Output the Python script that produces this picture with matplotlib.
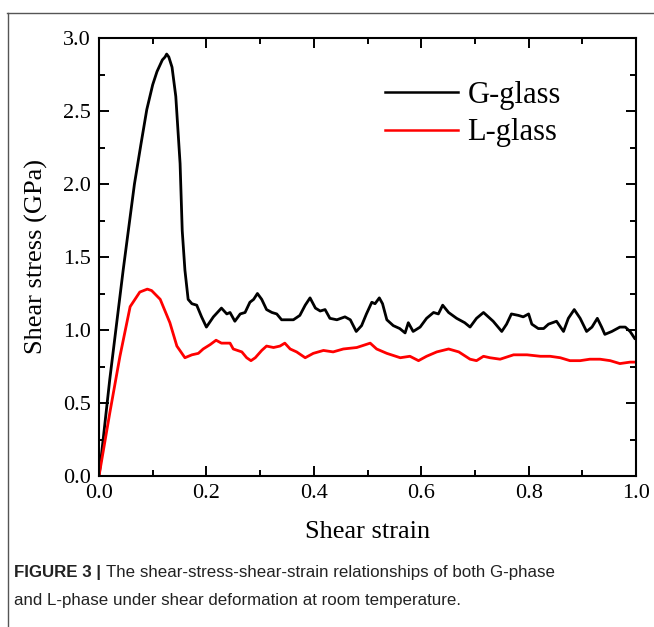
import matplotlib
matplotlib.use("Agg")
import matplotlib.pyplot as plt
from matplotlib.lines import Line2D
from matplotlib.ticker import MultipleLocator, FormatStrFormatter

# ---- data ----
g_strain = [0.0, 0.002, 0.020, 0.045, 0.066, 0.078, 0.089, 0.100, 0.108, 0.118, 0.123,
            0.126, 0.130, 0.136, 0.143, 0.151, 0.155, 0.160, 0.166, 0.173, 0.182, 0.191, 0.200,
            0.213, 0.228, 0.238, 0.244, 0.253, 0.263, 0.272, 0.281, 0.288, 0.295, 0.303, 0.312,
            0.322, 0.331, 0.340, 0.350, 0.362, 0.374, 0.384, 0.393, 0.403, 0.412, 0.421, 0.430,
            0.443, 0.458, 0.468, 0.479, 0.489, 0.498, 0.508, 0.514, 0.522, 0.528, 0.536, 0.548,
            0.560, 0.570, 0.576, 0.585, 0.598, 0.610, 0.623, 0.632, 0.640, 0.651, 0.666, 0.681,
            0.691, 0.703, 0.716, 0.728, 0.734, 0.750, 0.759, 0.768, 0.781, 0.790, 0.800, 0.806,
            0.818, 0.828, 0.837, 0.852, 0.865, 0.874, 0.885, 0.896, 0.908, 0.918, 0.928, 0.936,
            0.942, 0.955, 0.970, 0.980, 0.989, 0.998, 1.0]
g_stress = [0.0, 0.06, 0.66, 1.41, 2.00, 2.27, 2.51, 2.68, 2.77, 2.85, 2.87,
            2.89, 2.87, 2.80, 2.60, 2.14, 1.68, 1.41, 1.21, 1.18, 1.17, 1.09, 1.02,
            1.09, 1.15, 1.11, 1.12, 1.06, 1.11, 1.12, 1.19, 1.21, 1.25, 1.21, 1.14,
            1.12, 1.11, 1.07, 1.07, 1.07, 1.10, 1.17, 1.22, 1.15, 1.13, 1.14, 1.08,
            1.07, 1.09, 1.07, 0.99, 1.03, 1.11, 1.19, 1.18, 1.22, 1.18, 1.07, 1.03,
            1.01, 0.98, 1.05, 0.99, 1.02, 1.08, 1.12, 1.11, 1.17, 1.12, 1.08, 1.05,
            1.02, 1.08, 1.12, 1.08, 1.06, 0.99, 1.04, 1.11, 1.10, 1.09, 1.11, 1.04,
            1.01, 1.01, 1.04, 1.06, 0.99, 1.08, 1.14, 1.08, 0.99, 1.02, 1.08, 1.02,
            0.97, 0.99, 1.02, 1.02, 0.99, 0.94, 0.94]

l_strain = [0.0, 0.020, 0.039, 0.058, 0.076, 0.090, 0.098, 0.114, 0.132, 0.145, 0.160, 0.173,
            0.185, 0.194, 0.207, 0.218, 0.228, 0.244, 0.250, 0.266, 0.275, 0.283, 0.291, 0.303,
            0.312, 0.325, 0.337, 0.346, 0.356, 0.368, 0.384, 0.399, 0.418, 0.436, 0.455, 0.480,
            0.505, 0.517, 0.536, 0.561, 0.579, 0.595, 0.610, 0.629, 0.651, 0.670, 0.691, 0.703,
            0.716, 0.728, 0.747, 0.772, 0.797, 0.822, 0.840, 0.859, 0.877, 0.896, 0.914, 0.933,
            0.952, 0.970, 0.989, 1.0]
l_stress = [0.0, 0.43, 0.82, 1.16, 1.26, 1.28, 1.27, 1.21, 1.05, 0.89, 0.81, 0.83,
            0.84, 0.87, 0.90, 0.93, 0.91, 0.91, 0.87, 0.85, 0.81, 0.79, 0.81, 0.86,
            0.89, 0.88, 0.89, 0.91, 0.87, 0.85, 0.81, 0.84, 0.86, 0.85, 0.87, 0.88,
            0.91, 0.87, 0.84, 0.81, 0.82, 0.79, 0.82, 0.85, 0.87, 0.85, 0.80, 0.79,
            0.82, 0.81, 0.80, 0.83, 0.83, 0.82, 0.82, 0.81, 0.79, 0.79, 0.80, 0.80,
            0.79, 0.77, 0.78, 0.78]

series_labels = ["G-glass", "L-glass"]
x_label = "Shear strain"
y_label = "Shear stress (GPa)"
caption_bold = "FIGURE 3 | "
caption_line1 = "The shear-stress-shear-strain relationships of both G-phase"
caption_line2 = "and L-phase under shear deformation at room temperature."

# ---- figure ----
serif = ["Liberation Serif", "DejaVu Serif"]
sans = ["Liberation Sans", "DejaVu Sans"]

fig = plt.figure(figsize=(6.54, 6.27), dpi=100)
ax = fig.add_axes([99 / 654, 1 - 476 / 627, (636 - 99) / 654, (476 - 38) / 627])

ax.plot(g_strain, g_stress, color="black", lw=2.0, label=series_labels[0])
ax.plot(l_strain, l_stress, color="#ff0000", lw=2.0, label=series_labels[1])

ax.set_xlim(0, 1.0)
ax.set_ylim(0, 3.0)
ax.xaxis.set_major_locator(MultipleLocator(0.2))
ax.xaxis.set_minor_locator(MultipleLocator(0.1))
ax.yaxis.set_major_locator(MultipleLocator(0.5))
ax.yaxis.set_minor_locator(MultipleLocator(0.25))
ax.xaxis.set_major_formatter(FormatStrFormatter("%.1f"))
ax.yaxis.set_major_formatter(FormatStrFormatter("%.1f"))
ax.tick_params(which="both", direction="in", top=True, right=True, width=1.4)
ax.tick_params(which="major", length=7, labelsize=16, pad=6)
ax.tick_params(which="minor", length=4)
for lab in ax.get_xticklabels() + ax.get_yticklabels():
    lab.set_family(serif)
for sp in ax.spines.values():
    sp.set_linewidth(1.5)

ax.set_xlabel(x_label, fontsize=19, family=serif, labelpad=13)
ax.set_ylabel(y_label, fontsize=19, family=serif, labelpad=11)

leg = ax.legend(loc="upper left", bbox_to_anchor=(0.51, 0.93), frameon=False,
                prop={"family": serif, "size": 22}, handlelength=2.4,
                handletextpad=0.3, labelspacing=0.28, borderaxespad=0.0)
for h in leg.get_lines():
    h.set_linewidth(1.8)

# frame of the figure panel
fig.add_artist(Line2D([7 / 654, 1.0], [1 - 13 / 627, 1 - 13 / 627], transform=fig.transFigure,
                      color="#555555", lw=1.0))
fig.add_artist(Line2D([8 / 654, 8 / 654], [0.0, 1 - 13 / 627], transform=fig.transFigure,
                      color="#555555", lw=1.0))

# caption
cap_size = 12.2
t1 = fig.text(14 / 654, 1 - 572 / 627, caption_bold, fontsize=cap_size, fontweight="bold",
              family=sans, va="center", ha="left", color="#222222")
fig.canvas.draw()
bb = t1.get_window_extent(renderer=fig.canvas.get_renderer())
x_after = bb.x1 / fig.bbox.width
fig.text(x_after, 1 - 572 / 627, caption_line1, fontsize=cap_size, family=sans,
         va="center", ha="left", color="#222222")
fig.text(14 / 654, 1 - 601 / 627, caption_line2, fontsize=cap_size, family=sans,
         va="center", ha="left", color="#222222")

fig.savefig("out.png", dpi=100)
